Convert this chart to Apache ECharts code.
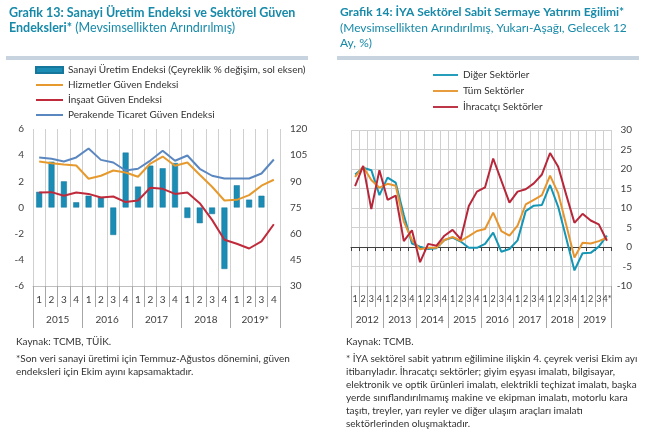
<!DOCTYPE html>
<html>
<head>
<meta charset="utf-8">
<script src="https://cdn.jsdelivr.net/npm/echarts@6/dist/echarts.min.js"></script>
<style>
  html, body { margin: 0; padding: 0; background: #fff; }
  #main { width: 647px; height: 434px; }
</style>
</head>
<body>
<div id="main"></div>
<script>
// Grafik 13 - 2015Q1..2019Q4
var quarters1 = ['1','2','3','4','1','2','3','4','1','2','3','4','1','2','3','4','1','2','3','4'];
var years1 = ['2015','2016','2017','2018','2019*'];
var sanayi = [1.2, 3.5, 2.0, 0.4, 0.9, 0.8, -2.1, 4.2, 1.6, 3.2, 3.0, 3.4, -0.8, -1.2, -0.5, -4.7, 1.7, 0.6, 0.9, null];
var hizmetler = [101.4, 100.4, 99.6, 99.1, 91.5, 93.2, 96.2, 95.1, 92.6, 100.2, 104.2, 98.9, 100.8, 93.8, 86.9, 79.0, 79.4, 82.1, 87.5, 90.9];
var insaat = [83.6, 83.8, 81.7, 83.6, 82.8, 80.7, 81.3, 78.1, 79.0, 86.3, 85.7, 82.8, 83.6, 77.5, 67.9, 56.5, 54.2, 51.5, 55.6, 65.4];
var perakende = [103.7, 102.9, 101.4, 103.7, 108.8, 102.3, 100.8, 96.2, 97.2, 101.9, 107.5, 101.8, 104.8, 97.2, 93.2, 91.6, 91.6, 91.6, 94.5, 102.5];

// Grafik 14 - 2012Q1..2019Q4
var quarters2 = ['1','2','3','4','1','2','3','4','1','2','3','4','1','2','3','4',
                 '1','2','3','4','1','2','3','4','1','2','3','4','1','2','3','4*'];
var years2 = ['2012','2013','2014','2015','2016','2017','2018','2019'];
var diger = [18.6, 20.3, 19.7, 13.3, 17.8, 16.5, 8.2, 0.9, 0.1, -0.5, -0.3, 1.8, 2.4, 1.4, -0.2, -0.2, 0.8, 3.7, -1.2, -0.5, 1.7, 9.2, 10.6, 10.8, 15.9, 10.3, 2.2, -6.0, -1.6, -1.5, 0.1, 2.9];
var tum = [18.0, 20.6, 17.2, 15.2, 16.2, 15.7, 6.5, 1.8, -0.6, -0.2, -0.2, 1.8, 2.6, 1.6, 2.8, 4.1, 4.6, 8.8, 4.1, 2.9, 5.5, 10.9, 12.1, 13.3, 18.3, 13.8, 5.6, -2.7, 1.1, 0.9, 1.5, 2.4];
var ihracatci = [15.6, 20.8, 9.7, 19.7, 12.1, 13.2, 1.5, 4.3, -3.9, 0.8, 0.3, 2.9, 4.4, 2.0, 10.5, 14.2, 15.3, 22.7, 17.0, 11.4, 14.2, 14.8, 16.3, 18.6, 24.1, 20.6, 13.3, 6.2, 8.5, 6.8, 5.8, 1.6];

var FONT = 'Lato';
var TITLE_C = '#178aa9';
var TXT = '#333333';
var GRID_C = '#d0d0d0';
var SEP_C = '#a6a6a6';
var LINE_ICON = 'path://M0,0H27V2H0Z';

var chart = echarts.init(document.getElementById('main'));

function titleRich(fs) {
  return {
    b: { fontFamily: FONT, fontSize: fs, fontWeight: 'bold', color: TITLE_C, lineHeight: 15 },
    n: { fontFamily: FONT, fontSize: fs, fontWeight: 'normal', color: TITLE_C, lineHeight: 15.5 }
  };
}

// quarter row: labels, separators below the plot and vertical grid lines
function qAxis(grid, data, fs) {
  return {
    gridIndex: grid, type: 'category', data: data, position: 'bottom', boundaryGap: true,
    axisLine: { show: true, onZero: false, lineStyle: { color: grid === 0 ? '#bfbfbf' : GRID_C } },
    axisTick: { show: true, interval: 0, length: 21, lineStyle: { color: SEP_C } },
    axisLabel: { show: true, interval: 0, margin: 9, fontSize: fs, fontFamily: FONT, color: '#404040' },
    splitLine: { show: true, interval: 0, lineStyle: { color: GRID_C, width: 1 } }
  };
}
// year row under the quarters
function yrAxis(grid, data) {
  return {
    gridIndex: grid, type: 'category', data: data, position: 'bottom', boundaryGap: true,
    axisLine: { show: false, onZero: false },
    axisTick: { show: true, interval: 0, length: 42, lineStyle: { color: SEP_C } },
    axisLabel: { show: true, interval: 0, margin: 29, fontSize: 10, fontFamily: FONT, color: '#404040' },
    splitLine: { show: false }
  };
}

var option = {
  animation: false,
  textStyle: { fontFamily: FONT },
  title: [
    { left: 9, top: 5, padding: 0, text: '{b|Grafik 13: Sanayi Üretim Endeksi ve Sektörel Güven}\n{b|Endeksleri*}{n| (Mevsimsellikten Arındırılmış)}',
      textStyle: { rich: titleRich(12.5) } },
    { left: 340, top: 5, padding: 0, text: '{b|Grafik 14: İYA Sektörel Sabit Sermaye Yatırım Eğilimi*}\n{n|(Mevsimsellikten Arındırılmış, Yukarı-Aşağı, Gelecek 12}\n{n|Ay, %)}',
      textStyle: { rich: titleRich(12) } }
  ],
  legend: [
    { left: 35, top: 65, padding: 0, orient: 'vertical', itemWidth: 27, itemHeight: 6, itemGap: 5,
      textStyle: { fontSize: 10, color: TXT, fontFamily: FONT },
      data: [
        { name: 'Sanayi Üretim Endeksi (Çeyreklik % değişim, sol eksen)', icon: 'rect' },
        { name: 'Hizmetler Güven Endeksi', icon: LINE_ICON },
        { name: 'İnşaat Güven Endeksi', icon: LINE_ICON },
        { name: 'Perakende Ticaret Güven Endeksi', icon: LINE_ICON }
      ] },
    { left: 433, top: 70, padding: 0, orient: 'vertical', itemWidth: 25, itemHeight: 6, itemGap: 6,
      textStyle: { fontSize: 10, color: TXT, fontFamily: FONT },
      data: [
        { name: 'Diğer Sektörler', icon: LINE_ICON },
        { name: 'Tüm Sektörler', icon: LINE_ICON },
        { name: 'İhracatçı Sektörler', icon: LINE_ICON }
      ] }
  ],
  grid: [
    { left: 33, top: 129, width: 247, height: 157 },
    { left: 351, top: 130, width: 260, height: 156 }
  ],
  xAxis: [
    qAxis(0, quarters1, 10),
    yrAxis(0, years1),
    qAxis(1, quarters2, 9),
    yrAxis(1, years2),
    // dark zero line with small ticks in Grafik 14
    { gridIndex: 1, type: 'category', data: quarters2, position: 'bottom', boundaryGap: true,
      axisLine: { show: true, onZero: true, onZeroAxisIndex: 2, lineStyle: { color: '#404040' } },
      axisTick: { show: true, interval: 0, length: 4, lineStyle: { color: '#404040' } },
      axisLabel: { show: false }, splitLine: { show: false } }
  ],
  yAxis: [
    { gridIndex: 0, type: 'value', position: 'left', min: -6, max: 6, interval: 2,
      axisLine: { show: false }, axisTick: { show: false }, splitLine: { show: false },
      axisLabel: { margin: 9, fontSize: 10, fontFamily: FONT, color: '#404040' } },
    { gridIndex: 0, type: 'value', position: 'right', min: 30, max: 120, interval: 15,
      axisLine: { show: false }, axisTick: { show: false }, splitLine: { show: false },
      axisLabel: { margin: 10, fontSize: 10, fontFamily: FONT, color: '#404040' } },
    { gridIndex: 1, type: 'value', position: 'right', min: -10, max: 30, interval: 5,
      axisLine: { show: false }, axisTick: { show: false },
      splitLine: { show: true, lineStyle: { color: GRID_C } },
      axisLabel: { margin: 21, align: 'right', fontSize: 10, fontFamily: FONT, color: '#404040' } }
  ],
  series: [
    { name: 'Sanayi Üretim Endeksi (Çeyreklik % değişim, sol eksen)', type: 'bar', xAxisIndex: 0, yAxisIndex: 0,
      data: sanayi, barWidth: 6, itemStyle: { color: '#1b8cb4', borderColor: '#16779c', borderWidth: 0.5 } },
    { name: 'Hizmetler Güven Endeksi', type: 'line', xAxisIndex: 0, yAxisIndex: 1, data: hizmetler,
      symbol: 'none', color: '#e69a2e', lineStyle: { width: 2 } },
    { name: 'İnşaat Güven Endeksi', type: 'line', xAxisIndex: 0, yAxisIndex: 1, data: insaat,
      symbol: 'none', color: '#c02b3b', lineStyle: { width: 2 } },
    { name: 'Perakende Ticaret Güven Endeksi', type: 'line', xAxisIndex: 0, yAxisIndex: 1, data: perakende,
      symbol: 'none', color: '#5b87c1', lineStyle: { width: 2 } },
    { name: 'Diğer Sektörler', type: 'line', xAxisIndex: 2, yAxisIndex: 2, data: diger,
      symbol: 'none', color: '#1596b5', lineStyle: { width: 2 } },
    { name: 'Tüm Sektörler', type: 'line', xAxisIndex: 2, yAxisIndex: 2, data: tum,
      symbol: 'none', color: '#e6952e', lineStyle: { width: 2 } },
    { name: 'İhracatçı Sektörler', type: 'line', xAxisIndex: 2, yAxisIndex: 2, data: ihracatci,
      symbol: 'none', color: '#b8263a', lineStyle: { width: 2 } }
  ],
  graphic: [
    { type: 'rect', shape: { x: 6, y: 56, width: 302, height: 4 }, style: { fill: '#c8d3e0' } },
    { type: 'rect', shape: { x: 337, y: 56, width: 302, height: 4 }, style: { fill: '#c8d3e0' } },
    { type: 'text', left: 16, top: 337, style: { text: 'Kaynak: TCMB, TÜİK.', font: '10px Lato', fill: TXT } },
    { type: 'text', left: 16, top: 352, style: { text: '*Son veri sanayi üretimi için Temmuz-Ağustos dönemini, güven\nendeksleri için Ekim ayını kapsamaktadır.', font: '10px Lato', lineHeight: 13, fill: TXT } },
    { type: 'text', left: 346, top: 337, style: { text: 'Kaynak: TCMB.', font: '10px Lato', fill: TXT } },
    { type: 'text', left: 346, top: 352, style: { text: '* İYA sektörel sabit yatırım eğilimine ilişkin 4. çeyrek verisi Ekim ayı\nitibarıyladır. İhracatçı sektörler; giyim eşyası imalatı, bilgisayar,\nelektronik ve optik ürünleri imalatı, elektrikli teçhizat imalatı, başka\nyerde sınıflandırılmamış makine ve ekipman imalatı, motorlu kara\ntaşıtı, treyler, yarı reyler ve diğer ulaşım araçları imalatı\nsektörlerinden oluşmaktadır.', font: '10px Lato', lineHeight: 13, fill: TXT } }
  ]
};

chart.setOption(option);
</script>
</body>
</html>
